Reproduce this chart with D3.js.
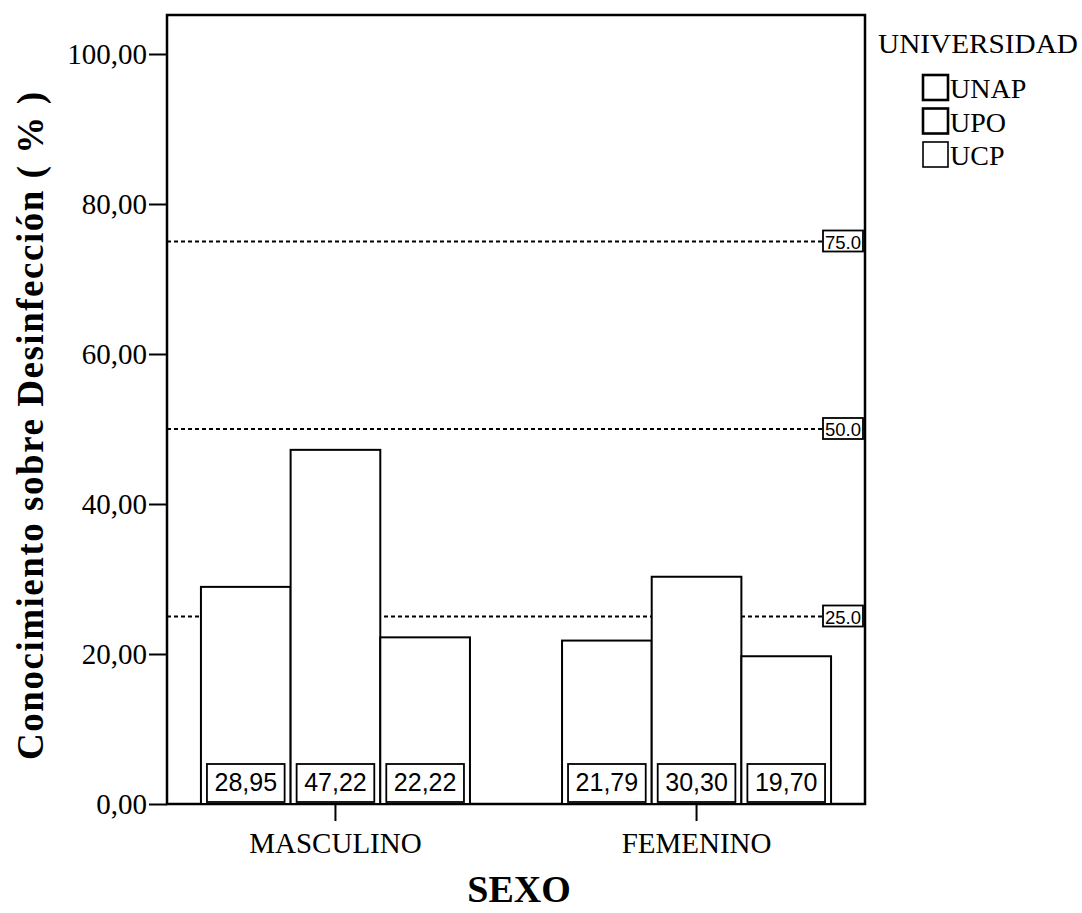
<!DOCTYPE html>
<html>
<head>
<meta charset="utf-8">
<script src="https://cdn.jsdelivr.net/npm/d3@7"></script>
<style>
  html, body { margin: 0; padding: 0; background: #fff; }
  svg { display: block; }
</style>
</head>
<body>
<div id="chart"></div>
<script>
// Conocimiento sobre desinfección por sexo y universidad
const categories = ["MASCULINO", "FEMENINO"];
const universities = ["UNAP", "UPO", "UCP"];
const unapValues = [28.95, 21.79];
const upoValues = [47.22, 30.30];
const ucpValues = [22.22, 19.70];
const referenceLines = [25, 50, 75];
const yTickValues = [0, 20, 40, 60, 80, 100];

const W = 1082, H = 913;
const plot = { left: 167, right: 865, top: 15, bottom: 804 };

const svg = d3.select("#chart").append("svg")
  .attr("width", W).attr("height", H);

const series = [unapValues, upoValues, ucpValues];
const rows = categories.map((c, i) => ({
  sexo: c,
  values: universities.map((u, j) => ({ uni: u, value: series[j][i] }))
}));

const x0 = d3.scaleBand()
  .domain(categories)
  .range([plot.left, plot.right])
  .paddingInner(0.255)
  .paddingOuter(0.094);

const x1 = d3.scaleBand()
  .domain(universities)
  .range([0, x0.bandwidth()])
  .padding(0);

const y = d3.scaleLinear()
  .domain([0, 105.2])
  .range([plot.bottom, plot.top]);

const commaFmt = v => d3.format(".2f")(v).replace(".", ",");
const serif = "'Liberation Serif', 'Times New Roman', serif";
const sans = "'Liberation Sans', Arial, sans-serif";

// Plot frame
svg.append("rect")
  .attr("x", plot.left).attr("y", plot.top)
  .attr("width", plot.right - plot.left)
  .attr("height", plot.bottom - plot.top)
  .attr("fill", "#fff").attr("stroke", "#000").attr("stroke-width", 2.5);

// Reference lines with boxed labels
const refG = svg.append("g");
referenceLines.forEach(r => {
  const yy = y(r);
  refG.append("line")
    .attr("x1", plot.left).attr("x2", plot.right - 42)
    .attr("y1", yy).attr("y2", yy)
    .attr("stroke", "#000").attr("stroke-width", 2)
    .attr("stroke-dasharray", "4,3");
  refG.append("rect")
    .attr("x", plot.right - 42).attr("y", yy - 11)
    .attr("width", 40).attr("height", 21)
    .attr("fill", "#fff").attr("stroke", "#000").attr("stroke-width", 1.8);
  refG.append("text")
    .attr("x", plot.right - 22).attr("y", yy + 7)
    .attr("text-anchor", "middle")
    .attr("font-family", sans).attr("font-size", 19)
    .attr("textLength", 36).attr("lengthAdjust", "spacingAndGlyphs")
    .text(d3.format(".1f")(r));
});

// Bars
const groups = svg.append("g").selectAll("g")
  .data(rows).join("g")
  .attr("transform", d => `translate(${x0(d.sexo)},0)`);

groups.selectAll("rect.bar")
  .data(d => d.values).join("rect")
  .attr("class", "bar")
  .attr("x", d => x1(d.uni))
  .attr("y", d => y(d.value))
  .attr("width", x1.bandwidth())
  .attr("height", d => y(0) - y(d.value))
  .attr("fill", "#fff").attr("stroke", "#000").attr("stroke-width", 2);

// Value labels at the base of each bar
const inset = 6;
groups.selectAll("rect.lab")
  .data(d => d.values).join("rect")
  .attr("class", "lab")
  .attr("x", d => x1(d.uni) + inset)
  .attr("y", y(0) - 40)
  .attr("width", x1.bandwidth() - 2 * inset)
  .attr("height", 38)
  .attr("fill", "#fff").attr("stroke", "#000").attr("stroke-width", 1.8);

groups.selectAll("text.val")
  .data(d => d.values).join("text")
  .attr("class", "val")
  .attr("x", d => x1(d.uni) + x1.bandwidth() / 2)
  .attr("y", y(0) - 13)
  .attr("text-anchor", "middle")
  .attr("font-family", sans).attr("font-size", 25)
  .text(d => commaFmt(d.value));

// Y axis
const yAxis = svg.append("g")
  .attr("transform", `translate(${plot.left},0)`)
  .call(d3.axisLeft(y).tickValues(yTickValues).tickFormat(commaFmt)
    .tickSize(18).tickPadding(2));
yAxis.select(".domain").remove();
yAxis.selectAll("line").attr("stroke", "#000").attr("stroke-width", 2);
yAxis.selectAll("text")
  .attr("font-family", serif).attr("font-size", 29).attr("fill", "#000");

// X axis
const xAxis = svg.append("g")
  .attr("transform", `translate(0,${plot.bottom})`)
  .call(d3.axisBottom(x0).tickSize(17).tickPadding(11));
xAxis.select(".domain").remove();
xAxis.selectAll("line").attr("stroke", "#000").attr("stroke-width", 2);
xAxis.selectAll("text")
  .attr("font-family", serif).attr("font-size", 29).attr("fill", "#000");

// Axis titles
svg.append("text")
  .attr("transform", `translate(43,${426}) rotate(-90)`)
  .attr("text-anchor", "middle")
  .attr("font-family", serif).attr("font-weight", "bold").attr("font-size", 37)
  .attr("textLength", 668).attr("lengthAdjust", "spacing")
  .text("Conocimiento sobre Desinfección ( % )");

svg.append("text")
  .attr("x", 519).attr("y", 902)
  .attr("text-anchor", "middle")
  .attr("font-family", serif).attr("font-weight", "bold").attr("font-size", 38)
  .text("SEXO");

// Legend
const legend = svg.append("g");
legend.append("text")
  .attr("x", 878).attr("y", 53)
  .attr("font-family", serif).attr("font-size", 28)
  .attr("textLength", 200).attr("lengthAdjust", "spacingAndGlyphs")
  .text("UNIVERSIDAD");

const legendWidths = [2.6, 2.6, 1.6];
universities.forEach((u, i) => {
  const ly = 75 + i * 33.5;
  legend.append("rect")
    .attr("x", 923).attr("y", ly)
    .attr("width", 25).attr("height", 25)
    .attr("fill", "#fff").attr("stroke", "#000")
    .attr("stroke-width", legendWidths[i]);
  legend.append("text")
    .attr("x", 950).attr("y", ly + 23)
    .attr("font-family", serif).attr("font-size", 28)
    .text(u);
});
</script>
</body>
</html>
